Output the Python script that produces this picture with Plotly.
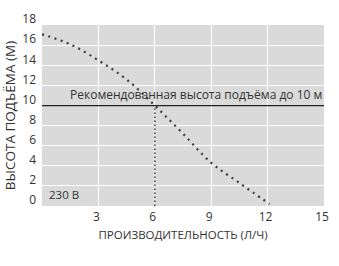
import plotly.graph_objects as go

flow = [0, 1.5, 3, 4.5, 6, 7.5, 9, 10.5, 12.1]
head = [17.1, 16.1, 14.5, 12.6, 10, 7.2, 4.3, 2.3, 0.2]
rec_head = 10
rec_flow = 6
x_ticks = [3, 6, 9, 12, 15]
y_ticks = [0, 2, 4, 6, 8, 10, 12, 14, 16, 18]
rec_label = "Рекомендованная высота подъёма до 10 м"
volt_label = "230 В"
x_title = "ПРОИЗВОДИТЕЛЬНОСТЬ (Л/Ч)"
y_title = "ВЫСОТА ПОДЪЁМА (М)"

fig = go.Figure()
fig.add_trace(go.Scatter(x=flow, y=head, mode="lines",
                         line=dict(color="#3a3a3a", width=2.2, dash="2px,4.5px", shape="spline"), showlegend=False))
fig.add_trace(go.Scatter(x=[rec_flow, rec_flow], y=[0, rec_head], mode="lines",
                         line=dict(color="#3a3a3a", width=1.5, dash="1.5px,2.5px"), showlegend=False))
fig.add_hline(y=rec_head, line=dict(color="#222", width=1.2))
fig.add_annotation(x=15, y=rec_head, xref="x", yref="y", text=rec_label, showarrow=False,
                   xanchor="right", yanchor="bottom", yshift=1, font=dict(size=12, color="#333"))
fig.add_annotation(x=0.25, y=1.15, xref="x", yref="y", text=volt_label, showarrow=False,
                   xanchor="left", yanchor="middle", font=dict(size=11.5, color="#333"))

fig.update_layout(
    width=339, height=266, margin=dict(l=38, r=10, t=13, b=60),
    plot_bgcolor="#dadada", paper_bgcolor="white",
    font=dict(family="Open Sans", size=12, color="#333"),
)
fig.update_xaxes(range=[0, 15], tickvals=x_ticks, showgrid=True, gridcolor="white", gridwidth=1,
                 zeroline=False, showline=False, ticks="", ticklabelshift=-2, ticklabelstandoff=2,
                 ticklabeloverflow="allow",
                 title=dict(text=x_title, font=dict(size=11.5, color="#333"), standoff=6))
fig.update_yaxes(range=[0, 18.02], tickvals=y_ticks, showgrid=True, gridcolor="white", gridwidth=1,
                 zeroline=False, showline=False, ticks="", ticklabelshift=-6, ticklabelstandoff=5,
                 ticklabeloverflow="allow",
                 title=dict(text=y_title, font=dict(size=13.5, color="#333"), standoff=3))

fig.write_html("out.html")
